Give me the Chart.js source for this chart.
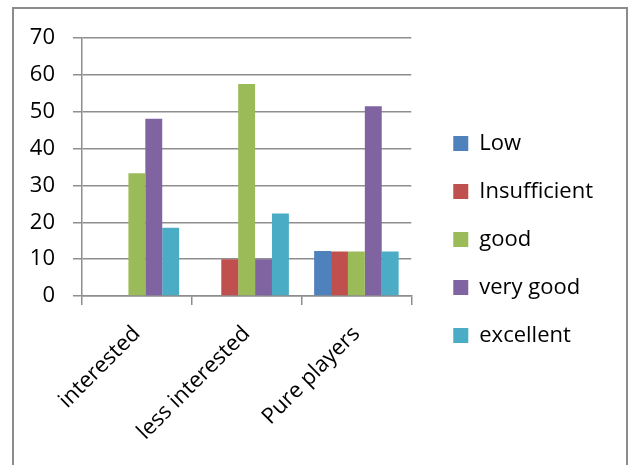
<!DOCTYPE html>
<html>
<head>
<meta charset="utf-8">
<script src="https://cdn.jsdelivr.net/npm/chart.js@4.4.1/dist/chart.umd.min.js"></script>
<style>
  html, body { margin: 0; padding: 0; background: #fff; }
  #frame {
    position: absolute; left: 12px; top: 7px;
    width: 612px; height: 470px;
    border: 2px solid #8c8c8c; border-bottom: none;
  }
  canvas { display: block; }
</style>
</head>
<body>
<div id="frame"><canvas id="chart" width="612" height="456"></canvas></div>
<script>
// player groups along the x axis
const groups = ['interested', 'less interested', 'Pure players'];

// rating shares (%) per group
const low = [0, 0, 12.2];
const insufficient = [0, 10, 12.1];
const good = [33.3, 57.5, 12.1];
const veryGood = [48.1, 10, 51.5];
const excellent = [18.5, 22.4, 12.1];

const seriesNames = ['Low', 'Insufficient', 'good', 'very good', 'excellent'];
const seriesColors = ['#4f81bd', '#c0504d', '#9bbb59', '#8064a2', '#4bacc6'];
const yTicks = [0, 10, 20, 30, 40, 50, 60, 70];

const gridGray = '#8e8e8e';
const font = { family: "'Open Sans'", size: 22 };

const datasets = [low, insufficient, good, veryGood, excellent].map((vals, i) => ({
  label: seriesNames[i],
  data: vals,
  backgroundColor: seriesColors[i],
  borderWidth: 0,
  categoryPercentage: 0.77,
  barPercentage: 1
}));

new Chart(document.getElementById('chart'), {
  type: 'bar',
  data: { labels: groups, datasets },
  options: {
    responsive: false,
    animation: false,
    layout: { padding: { top: 5, right: 23, bottom: 0, left: 0 } },
    plugins: {
      tooltip: { enabled: false },
      legend: {
        position: 'right',
        maxWidth: 300,
        labels: {
          color: '#000',
          font,
          boxWidth: 15,
          boxHeight: 15,
          padding: 26
        }
      }
    },
    scales: {
      x: {
        grid: { drawOnChartArea: false, drawTicks: true, tickLength: 9, color: gridGray, lineWidth: 1.5 },
        border: { color: gridGray, width: 1.5 },
        ticks: { color: '#000', font, maxRotation: 45, minRotation: 45, autoSkip: false, padding: 16 },
        afterFit(s) { s.height = 169; s.paddingLeft = 0; s.paddingRight = 0; }
      },
      y: {
        min: 0,
        max: 70,
        grid: { color: gridGray, lineWidth: 1.5, tickLength: 9 },
        border: { color: gridGray, width: 1.5 },
        ticks: { color: '#000', font, padding: 18 },
        afterBuildTicks(s) { s.ticks = yTicks.map(v => ({ value: v })); },
        afterFit(s) { s.width = 68; s.paddingTop = 29; }
      },
      // empty strip between plot and legend
      gap: {
        type: 'linear',
        position: 'right',
        grid: { display: false },
        border: { display: false },
        ticks: { display: false },
        afterFit(s) { s.width = 16; }
      }
    }
  }
});
</script>
</body>
</html>
